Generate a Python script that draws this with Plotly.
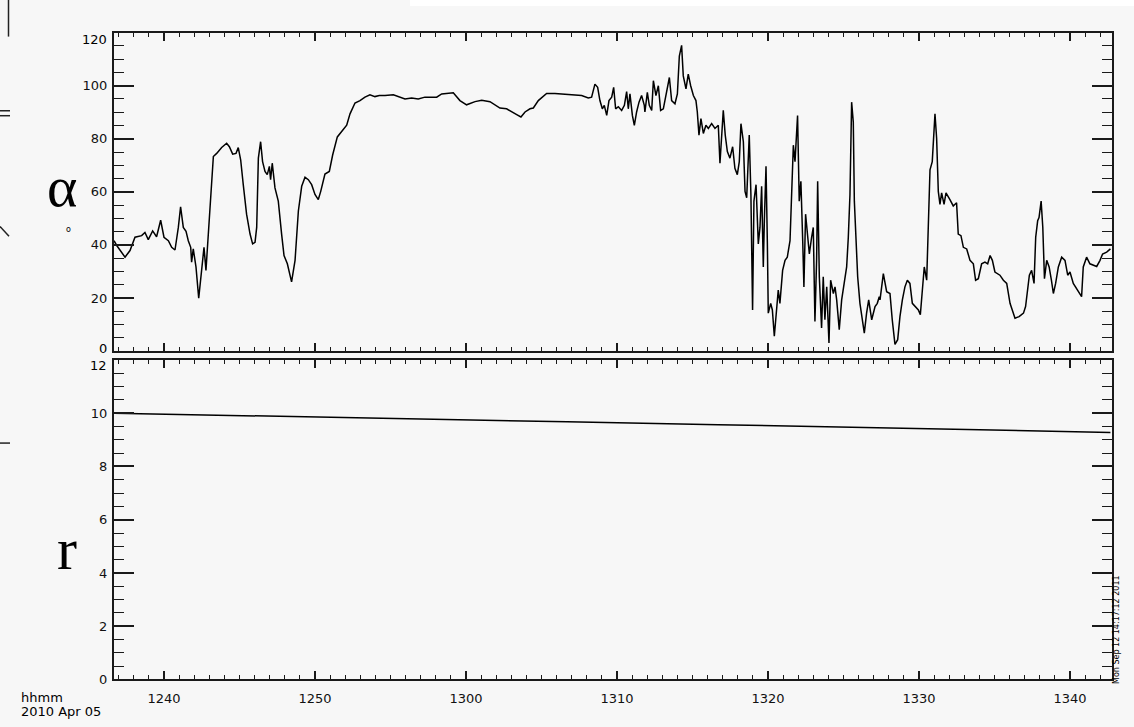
import datetime as dt
import plotly.graph_objects as go

# ---------------- data (minutes after 12:40 UT, 2010 Apr 05) ----------------
BASE_TIME = dt.datetime(2010, 4, 5, 12, 40)

alpha_minutes = [
    -3.31, -3.13, -2.58, -2.25, -1.92, -1.48, -1.26, -1.04, -0.75, -0.49,
    -0.22, 0.00, 0.29, 0.51, 0.73, 0.95, 1.10, 1.28, 1.46, 1.61,
    1.77, 1.83, 1.94, 2.12, 2.30, 2.45, 2.65, 2.78, 2.96, 3.11,
    3.27, 3.49, 3.82, 4.15, 4.33, 4.55, 4.77, 4.92, 5.08, 5.25,
    5.47, 5.70, 5.87, 6.03, 6.14, 6.25, 6.40, 6.53, 6.69, 6.84,
    6.98, 7.06, 7.17, 7.35, 7.57, 7.79, 7.95, 8.17, 8.45, 8.68,
    8.90, 9.12, 9.34, 9.56, 9.78, 10.00, 10.22, 10.38, 10.66, 10.95,
    11.17, 11.48, 11.77, 12.10, 12.32, 12.65, 12.98, 13.31, 13.64, 13.97,
    14.26,
    14.64, 15.19, 15.52, 15.96, 16.40, 16.84, 17.28, 18.06, 18.39, 19.16,
    19.60, 20.04, 20.60, 21.04, 21.59, 21.92, 22.25, 22.69, 23.02, 23.36,
    23.64, 23.91, 24.24, 24.46, 24.79, 25.34, 25.89, 26.34, 26.78, 27.22,
    27.66, 28.10, 28.32, 28.54, 28.72, 28.87, 29.03, 29.16, 29.32, 29.47,
    29.65, 29.78, 29.91, 30.09, 30.31, 30.49, 30.64, 30.75, 30.86, 31.02,
    31.15, 31.30, 31.46, 31.63, 31.81,
    31.85, 32.01, 32.14, 32.30, 32.41, 32.58, 32.74, 32.89, 33.07, 33.25,
    33.47, 33.62, 33.84, 34.00, 34.13, 34.28, 34.39, 34.57, 34.72, 34.88,
    35.06, 35.23, 35.32, 35.43, 35.56, 35.72, 35.89, 36.05, 36.27, 36.49,
    36.71, 36.82, 36.93, 37.04, 37.17, 37.31, 37.48, 37.66, 37.81, 37.97,
    38.10, 38.21, 38.37, 38.48, 38.59, 38.76, 38.87, 38.98, 39.07, 39.21,
    39.36, 39.47, 39.58, 39.69, 39.76, 39.87, 39.96, 40.02, 40.18, 40.29,
    40.42, 40.57, 40.68, 40.79, 40.97, 41.13, 41.28, 41.46, 41.57, 41.68,
    41.79, 41.90, 41.96, 42.07, 42.18, 42.30, 42.38, 42.49, 42.60, 42.74,
    42.89, 43.00, 43.11, 43.22, 43.29, 43.40, 43.55, 43.66, 43.77, 43.89,
    44.04, 44.15, 44.33, 44.44, 44.55, 44.72, 44.88, 45.05, 45.21, 45.32,
    45.43, 45.54, 45.65, 45.72, 45.83, 45.94, 46.09, 46.25, 46.38, 46.53,
    46.67, 46.87, 47.09, 47.24, 47.37,
    47.42, 47.64, 47.86, 48.08, 48.23, 48.41, 48.59, 48.74, 48.90, 49.07,
    49.23, 49.40, 49.56, 49.74, 49.96, 50.09, 50.22, 50.35, 50.51, 50.62,
    50.73, 50.88, 50.97, 51.06, 51.17, 51.28, 51.39, 51.50, 51.66, 51.79,
    52.05, 52.27, 52.49, 52.60, 52.78, 52.94, 53.16, 53.38, 53.60, 53.75,
    53.93, 54.15, 54.37, 54.55, 54.71, 54.86, 55.03, 55.36, 55.59, 55.81,
    56.03, 56.19, 56.36, 56.63, 56.92, 57.06, 57.20, 57.31, 57.46, 57.62,
    57.73, 57.86, 57.95, 58.09, 58.20, 58.31, 58.46, 58.62, 58.77, 58.90,
    59.05, 59.23, 59.45, 59.67, 59.85, 60.00, 60.22, 60.44, 60.60, 60.77,
    60.88, 61.10, 61.32, 61.54, 61.77, 61.99, 62.16, 62.43, 62.68,
]

alpha_values = [
    41.6, 39.8, 35.4, 37.9, 42.9, 43.5, 44.7, 42.0, 45.3, 43.1,
    49.3, 42.9, 41.6, 39.1, 38.1, 46.6, 54.4, 46.6, 45.1, 41.6,
    39.1, 33.5, 38.5, 31.7, 19.9, 28.6, 39.1, 30.4, 46.0, 61.5,
    73.3, 74.5, 76.7, 78.3, 77.0, 74.2, 74.5, 76.7, 72.0, 62.7,
    51.6, 44.1, 40.4, 41.0, 46.6, 72.7, 78.9, 71.4, 67.7, 66.5,
    69.6, 64.6, 70.8, 61.5, 56.5, 44.1, 36.0, 32.9, 26.1, 34.2,
    52.8, 62.1, 65.5, 64.6, 62.7, 59.0, 57.1, 60.2, 66.7, 67.7,
    73.9, 80.7, 82.6, 85.1, 89.4, 93.5, 94.4, 95.7, 96.6, 95.9,
    96.3,
    96.3, 96.6, 95.9, 95.0, 95.4, 95.0, 95.7, 95.7, 96.9, 97.3,
    94.4, 92.8, 94.0, 94.5, 94.0, 92.8, 91.6, 91.3, 90.1, 89.1,
    88.2, 90.1, 91.3, 91.6, 94.4, 97.1, 97.1, 96.9, 96.5, 96.3,
    96.3, 95.4, 95.7, 100.6, 99.4, 94.4, 91.3, 92.6, 88.8, 94.4,
    95.7, 99.4, 91.3, 92.1, 90.7, 92.6, 97.8, 91.3, 96.9, 88.8,
    85.1, 90.1, 93.8, 96.3, 92.6,
    90.1, 97.5, 92.6, 90.7, 101.9, 96.3, 100.0, 90.7, 91.3, 96.3,
    103.1, 94.4, 93.2, 96.9, 111.2, 115.2, 103.7, 98.8, 104.4, 100.0,
    96.3, 94.4, 90.1, 81.4, 87.6, 82.0, 85.1, 83.9, 85.7, 83.9,
    85.1, 70.8, 82.0, 90.7, 81.4, 75.2, 72.7, 77.0, 68.9, 66.5,
    71.4, 85.7, 78.9, 60.2, 57.8, 81.4, 59.0, 15.5, 56.5, 62.7,
    40.4, 46.6, 62.1, 31.7, 49.1, 69.6, 40.4, 14.3, 18.0, 15.5,
    5.6, 15.5, 23.0, 18.0, 30.4, 34.2, 35.4, 41.6, 60.2, 77.6,
    71.4, 81.4, 88.8, 56.5, 64.0, 41.6, 24.2, 51.6, 45.3, 36.6,
    42.9, 46.6, 11.2, 34.2, 64.0, 28.0, 8.7, 28.0, 11.8, 24.2,
    3.1, 26.7, 21.7, 24.2, 19.3, 8.1, 19.3, 25.5, 31.7, 42.9,
    59.0, 93.8, 86.3, 56.5, 39.1, 28.0, 18.0, 11.8, 6.8, 14.3,
    19.3, 11.8, 16.8, 18.0, 20.5,
    19.3, 29.2, 22.4, 21.7, 11.8, 2.5, 4.3, 13.0, 19.3, 24.2,
    26.7, 25.5, 18.0, 16.8, 15.5, 13.7, 24.2, 31.7, 26.7, 49.1,
    68.3, 71.4, 78.9, 89.4, 80.1, 60.2, 55.3, 59.6, 55.3, 59.6,
    57.1, 54.7, 55.9, 44.1, 43.5, 39.1, 38.5, 34.2, 32.9, 26.7,
    27.3, 32.9, 33.5, 32.9, 36.0, 34.2, 29.8, 28.6, 26.7, 25.5,
    18.0, 15.5, 12.4, 13.0, 14.3, 16.8, 23.0, 28.6, 30.4, 25.5,
    42.9, 49.1, 50.3, 56.5, 46.6, 27.3, 34.2, 31.7, 26.7, 21.7,
    25.5, 31.7, 35.4, 34.2, 28.6, 29.8, 25.5, 23.6, 22.4, 20.5,
    31.7, 35.4, 32.9, 32.3, 31.9, 34.2, 36.6, 37.3, 38.5,
]

r_minutes = [-3.31, 6.7, 16.7, 26.7, 36.7, 46.7, 56.7, 62.68]
r_values = [10.00, 9.90, 9.79, 9.68, 9.57, 9.46, 9.35, 9.28]

alpha_ticks = [0, 20, 40, 60, 80, 100, 120]
alpha_tick_text = ["", "20", "40", "60", "80", "100", ""]   # 0 and 120 drawn as offset labels
r_ticks = [0, 2, 4, 6, 8, 10, 12]
r_tick_text = ["0", "2", "4", "6", "8", "10", ""]            # 12 drawn as offset label
time_tick_labels = ["1240", "1250", "1300", "1310", "1320", "1330", "1340"]
time_tick_minutes = [0, 10, 20, 30, 40, 50, 60]

assert len(alpha_minutes) == len(alpha_values)
assert len(r_minutes) == len(r_values)


def to_time(m):
    return BASE_TIME + dt.timedelta(minutes=m)


alpha_t = [to_time(m) for m in alpha_minutes]
r_t = [to_time(m) for m in r_minutes]
tick_t = [to_time(m) for m in time_tick_minutes]

W, H = 1134, 727
BG = "#f7f7f7"
AX = "#1a1a1a"
SANS = "DejaVu Sans, Liberation Sans, Arial, sans-serif"
SERIF = "Liberation Serif, Times New Roman, serif"


def px(x):
    return x / W


def py(y):
    return 1 - y / H


x_range = [to_time(-3.31), to_time(62.75)]

fig = go.Figure()
fig.add_trace(go.Scatter(x=alpha_t, y=alpha_values, mode="lines",
                         line=dict(color="#000000", width=1.5),
                         xaxis="x", yaxis="y", showlegend=False, hoverinfo="skip"))
fig.add_trace(go.Scatter(x=r_t, y=r_values, mode="lines",
                         line=dict(color="#000000", width=1.5),
                         xaxis="x2", yaxis="y2", showlegend=False, hoverinfo="skip"))

tickfont = dict(family=SANS, size=13, color="#111111")

common_x = dict(
    type="date", range=x_range, showline=True, linecolor=AX, linewidth=2,
    mirror="ticks", ticks="inside", ticklen=8, tickwidth=1.5, tickcolor=AX,
    tickmode="array", tickvals=tick_t, ticktext=time_tick_labels,
    minor=dict(ticks="inside", ticklen=4, tickwidth=1.3, tickcolor=AX,
               tickmode="linear", tick0=to_time(0), dtick=60000, showgrid=False),
    showgrid=False, zeroline=False, tickfont=tickfont,
)

common_y = dict(
    showline=True, linecolor=AX, linewidth=2, mirror="ticks",
    ticks="inside", ticklen=20, tickwidth=1.5, tickcolor=AX,
    tickmode="array", showgrid=False, zeroline=False, tickfont=tickfont,
    ticklabelstandoff=2,
)

fig.update_layout(
    width=W, height=H, margin=dict(l=0, r=0, t=0, b=0),
    paper_bgcolor=BG, plot_bgcolor=BG, showlegend=False,
    xaxis=dict(common_x, domain=[px(114), px(1111.5)], anchor="y", showticklabels=False),
    xaxis2=dict(common_x, domain=[px(114), px(1111.5)], anchor="y2", matches="x",
                ticklabelstandoff=6),
    yaxis=dict(common_y, domain=[py(355), py(33)], range=[0, 120], anchor="x",
               tickvals=alpha_ticks, ticktext=alpha_tick_text,
               minor=dict(ticks="inside", ticklen=10, tickwidth=1.3, tickcolor=AX,
                          dtick=5, showgrid=False)),
    yaxis2=dict(common_y, domain=[py(687), py(364)], range=[0, 12], anchor="x2",
                tickvals=r_ticks, ticktext=r_tick_text,
                minor=dict(ticks="inside", ticklen=10, tickwidth=1.3, tickcolor=AX,
                           dtick=0.5, showgrid=False)),
)


def label(text, x, y, size=13, family=SANS, xanchor="center", yanchor="middle", **kw):
    fig.add_annotation(text=text, x=px(x), y=py(y), xref="paper", yref="paper",
                       xanchor=xanchor, yanchor=yanchor, showarrow=False,
                       font=dict(family=family, size=size, color="#000"), **kw)


# offset end labels of the value axes (as in the original)
label("120", 109, 40, xanchor="right")
label("0", 109, 352, xanchor="right")
label("12", 109, 370, xanchor="right")

# axis titles
label("α", 62, 189, size=58, family=SERIF)
label("o", 68, 232, size=8)
label("r", 67, 555, size=60, family=SERIF)

# time-axis caption
label("hhmm", 19, 705, xanchor="left")
label("2010 Apr 05", 19, 719, xanchor="left")

# plot timestamp
label("Mon Sep 12 14:17:12 2011", 1117, 637, size=8, textangle=-90)

# screenshot edge artefacts
fig.add_shape(type="rect", xref="paper", yref="paper", x0=px(410), x1=1, y0=py(6), y1=1,
              fillcolor="#ffffff", line=dict(width=0), layer="below")
for (x0, y0, x1, y1) in [(8.5, 0, 8.5, 37), (0, 112, 10, 112), (0, 117, 10, 117),
                         (0, 229, 9, 239), (0, 448, 10, 448)]:
    fig.add_shape(type="line", xref="paper", yref="paper",
                  x0=px(x0), y0=py(y0), x1=px(x1), y1=py(y1),
                  line=dict(color="#222", width=1.5))

fig.write_html("out.html")
